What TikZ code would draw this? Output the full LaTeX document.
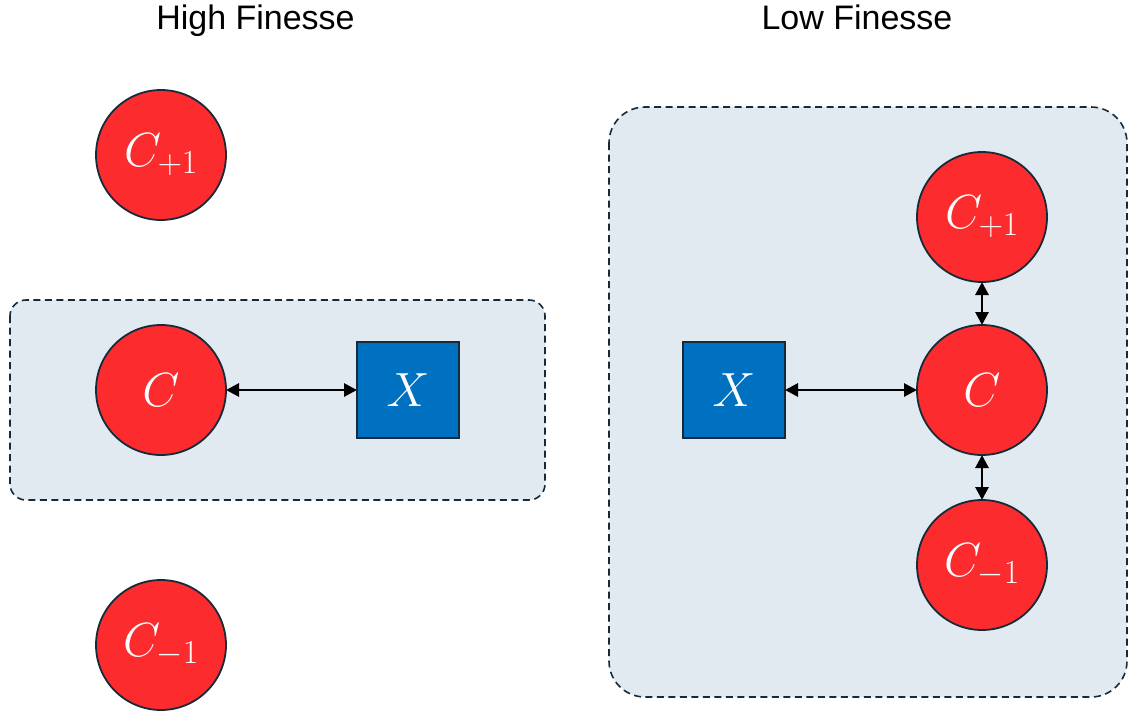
\RequirePackage{fix-cm}
\documentclass[tikz,border=0pt]{standalone}
\usepackage{fontspec}
\newfontfamily\titlefont{Liberation Sans}
\usetikzlibrary{arrows.meta}
\definecolor{cavred}{HTML}{FB2B2E}
\definecolor{atomblue}{HTML}{0070C0}
\definecolor{edgenavy}{HTML}{172A3A}
\definecolor{regionfill}{HTML}{E1EAF0}
\tikzset{
  mode/.style={circle, fill=cavred, draw=edgenavy, line width=1.8pt,
    minimum size=130pt, inner sep=0pt, outer sep=0pt, text=white,
    font=\fontsize{48}{54}\selectfont},
  emitter/.style={rectangle, fill=atomblue, draw=edgenavy, line width=1.5pt,
    minimum width=102pt, minimum height=96pt, inner sep=0pt, outer sep=0pt,
    text=white, font=\fontsize{48}{54}\selectfont},
  region/.style={fill=regionfill, draw=edgenavy, line width=1.6pt,
    dash pattern=on 7pt off 4.5pt},
  coupling/.style={line width=2.8pt, black,
    {Triangle[length=13pt,width=13pt]}-{Triangle[length=13pt,width=13pt]}},
  heading/.style={font=\titlefont\fontsize{34}{40}\selectfont, text=black,
    anchor=base, inner sep=0pt}
}
\begin{document}
\begin{tikzpicture}[x=1pt, y=-1pt]
  \useasboundingbox (0,0) rectangle (1128,715);

  % coupled regions
  \draw[region, rounded corners=16pt] (10,300) rectangle (545,500);
  \draw[region, rounded corners=36pt] (609,107) rectangle (1127,697);

  % headings
  \node[heading] (hf) at (255.5,29) {High Finesse};
  \node[heading] (lf) at (857,29) {Low Finesse};

  % high finesse: single mode coupled to the emitter
  \node[mode] (hcp) at (161,155) {$C_{+1}$};
  \node[mode] (hc)  at (161,390) {$C$};
  \node[mode] (hcm) at (161,645) {$C_{-1}$};
  \node[emitter] (hx) at (408,390) {$X$};
  \draw[coupling] (hc) -- (hx);

  % low finesse: neighbouring modes join in
  \node[emitter] (lx) at (734,390) {$X$};
  \node[mode] (lc)  at (982,390) {$C$};
  \node[mode] (lcp) at (982,217) {$C_{+1}$};
  \node[mode] (lcm) at (982,565) {$C_{-1}$};
  \draw[coupling] (lx) -- (lc);
  \draw[coupling] (lcp) -- (lc);
  \draw[coupling] (lc) -- (lcm);
\end{tikzpicture}
\end{document}
